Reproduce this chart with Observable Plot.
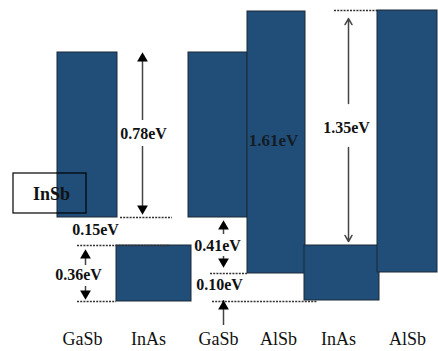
<!DOCTYPE html>
<html><head><meta charset="utf-8">
<script src="https://cdn.jsdelivr.net/npm/d3@7"></script>
<script src="https://cdn.jsdelivr.net/npm/@observablehq/plot@0.6"></script>
<style>body{margin:0;background:#fff}</style>
</head><body><div id="chart"></div>
<script>
// Layers (band blocks), in diagram units (x: position, y: relative energy level)
const materials = ["GaSb","InAs","GaSb","AlSb","InAs","AlSb"];
const layerX1 = [57,116,188,247,304,377];
const layerX2 = [117,191,247,305,379,437];
const layerTop = [299,106,299,340,106,341];
const layerBottom = [134,50,134,78,51,79];
const labelX = [82,148,218,278,338,407];
const labelY = 12;

// Band-offset annotations
const gapTexts = ["0.78eV","0.15eV","0.36eV","0.41eV","0.10eV","1.35eV"];
const gapTextX = [143,95,78,217,219,346];
const gapTextY = [218,122,77,106,67,224];

// Reference levels (dotted)
const refLevel = [134,106,50,78,50,341];
const refX1 = [120,77,77,210,212,334];
const refX2 = [172,170,116,247,317,377];

// Arrow shafts
const shaftX = [142,142,85,85,223,223,223];
const shaftY1 = [231,205,99,65,125,95,51];
const shaftY2 = [295,141,86,56,117,89,26];
// Filled arrow heads
const headX = [142,142,85,85,223,223,223];
const headY = [293,143,96,58,125,90,45];
const headDir = ["up","down","up","down","up","down","up"];
// Open arrows (1.35 eV)
const openX = [348,348];
const openFrom = [248,204];
const openTo = [333,110];

const bars = materials.map((m,i)=>({m,x1:layerX1[i],x2:layerX2[i],top:layerTop[i],bottom:layerBottom[i]}));
const labels = materials.map((m,i)=>({m,x:labelX[i],y:labelY}));
const gaps = gapTexts.map((t,i)=>({t,x:gapTextX[i],y:gapTextY[i]}));
const refs = refLevel.map((y,i)=>({y,x1:refX1[i],x2:refX2[i]}));
const shafts = shaftX.map((x,i)=>({x,y1:shaftY1[i],y2:shaftY2[i]}));
const heads = headX.map((x,i)=>({x,y:headY[i],dir:headDir[i]}));
const opens = openX.map((x,i)=>({x,y1:openFrom[i],y2:openTo[i]}));
const insb = [{label:"InSb",x1:13,x2:86,y1:138,y2:178,x:51,y:157}];
const inner = [{t:"1.61eV",x:273,y:211}];

const serif = "Liberation Serif, Times New Roman, serif";
const chart = Plot.plot({
  width:438, height:351, margin:0,
  x:{domain:[0,438],axis:null},
  y:{domain:[0,351],axis:null},
  style:{background:"#fff"},
  marks:[
    Plot.rect(bars,{x1:"x1",x2:"x2",y1:"bottom",y2:"top",fill:"#204e78",stroke:"#1a2836",strokeWidth:1}),
    Plot.ruleY(refs,{y:"y",x1:"x1",x2:"x2",stroke:"#333",strokeWidth:1.5,strokeDasharray:"2,1.2"}),
    Plot.rect(insb,{x1:"x1",x2:"x2",y1:"y1",y2:"y2",fill:"none",stroke:"#000",strokeWidth:1.2}),
    Plot.text(insb,{x:"x",y:"y",text:"label",fontFamily:serif,fontWeight:"bold",fontSize:18,fill:"#111"}),
    Plot.ruleX(shafts,{x:"x",y1:"y1",y2:"y2",stroke:"#444",strokeWidth:1.5}),
    Plot.dot(heads,{x:"x",y:"y",symbol:"triangle",r:4,fill:"#000",stroke:"none",rotate:d=>d.dir==="down"?180:0}),
    Plot.arrow(opens,{x1:"x",y1:"y1",x2:"x",y2:"y2",stroke:"#444",strokeWidth:1.5,headLength:7}),
    Plot.text(gaps,{x:"x",y:"y",text:"t",fontFamily:serif,fontWeight:"bold",fontSize:16,fill:"#111"}),
    Plot.text(inner,{x:"x",y:"y",text:"t",fontFamily:serif,fontWeight:"bold",fontSize:17,fill:"#131c26"}),
    Plot.text(labels,{x:"x",y:"y",text:"m",fontFamily:serif,fontSize:18,fill:"#111"})
  ]
});
document.getElementById("chart").append(chart);
</script></body></html>
